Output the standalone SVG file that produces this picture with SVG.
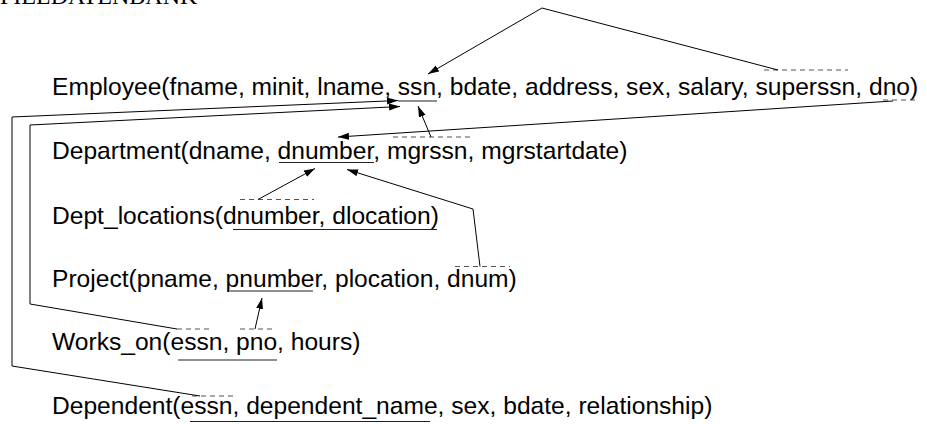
<svg xmlns="http://www.w3.org/2000/svg" width="927" height="424" viewBox="0 0 927 424">
  <style>
    .rel { font-family: "Liberation Sans", Arial, sans-serif; font-size: 24.6px; fill: #000; }
    .title { font-family: "Liberation Serif", "Times New Roman", serif; font-size: 24px; fill: #000; }
    .key { stroke: #222; stroke-width: 1.2; fill: none; }
    .fk { stroke: #555; stroke-width: 1.2; fill: none; stroke-dasharray: 5 4; }
    .conn { stroke: #000; stroke-width: 1; fill: none; marker-end: url(#arrow); }
  </style>
  <defs>
    <marker id="arrow" markerUnits="userSpaceOnUse" markerWidth="12" markerHeight="8" refX="11" refY="4" orient="auto">
      <path d="M0,0.5 L11,4 L0,7.5 z" fill="#000"/>
    </marker>
  </defs>
  <rect width="927" height="424" fill="#fff"/>

  <text class="title" x="0" y="4">PIELDATENBANK</text>

  <g id="employee">
    <text class="rel" x="52" y="95">Employee(fname, minit, lname, ssn, bdate, address, sex, salary, superssn, dno)</text>
    <line class="key" x1="398" y1="101" x2="437" y2="101"/>
    <line class="fk" x1="764" y1="70" x2="848" y2="70"/>
    <line class="fk" x1="883" y1="100" x2="916" y2="100"/>
  </g>

  <g id="department">
    <text class="rel" x="52" y="159">Department(dname, dnumber, mgrssn, mgrstartdate)</text>
    <line class="key" x1="279" y1="162.5" x2="374" y2="162.5"/>
    <line class="fk" x1="393" y1="137" x2="473" y2="137"/>
  </g>

  <g id="dept_locations">
    <text class="rel" x="52" y="224">Dept_locations(dnumber, dlocation)</text>
    <line class="key" x1="233" y1="229.5" x2="437" y2="229.5"/>
    <line class="fk" x1="240" y1="199.5" x2="314" y2="199.5"/>
  </g>

  <g id="project">
    <text class="rel" x="52" y="287">Project(pname, pnumber, plocation, dnum)</text>
    <line class="key" x1="230" y1="291" x2="313" y2="291"/>
    <line class="fk" x1="455" y1="266.5" x2="510" y2="266.5"/>
  </g>

  <g id="works_on">
    <text class="rel" x="52" y="350">Works_on(essn, pno, hours)</text>
    <line class="key" x1="178" y1="360" x2="277" y2="360"/>
    <line class="fk" x1="177" y1="329" x2="212" y2="329"/>
    <line class="fk" x1="240" y1="329" x2="275" y2="329"/>
  </g>

  <g id="dependent">
    <text class="rel" x="52" y="414">Dependent(essn, dependent_name, sex, bdate, relationship)</text>
    <line class="key" x1="190" y1="421.5" x2="430" y2="421.5"/>
    <line class="fk" x1="192" y1="396" x2="233" y2="396"/>
  </g>

  <g id="connectors">
    <!-- superssn -> ssn -->
    <polyline class="conn" points="778,70 542,8 428,74"/>
    <!-- dno -> Department.dnumber -->
    <polyline class="conn" points="893,101 338,137"/>
    <!-- mgrssn -> ssn -->
    <polyline class="conn" points="431,137 418,106"/>
    <!-- Dept_locations.dnumber -> Department.dnumber -->
    <polyline class="conn" points="258,199.5 315,168.5"/>
    <!-- Project.dnum -> Department.dnumber -->
    <polyline class="conn" points="480,266.5 473,209 347,169.5"/>
    <!-- Works_on.pno -> Project.pnumber -->
    <polyline class="conn" points="255,329 262,298"/>
    <!-- Works_on.essn -> ssn -->
    <polyline class="conn" points="177,329 30,304 30,125 400,106.5"/>
    <!-- Dependent.essn -> ssn -->
    <polyline class="conn" points="200,396 12,366 12,117 398,100.5"/>
  </g>
</svg>
